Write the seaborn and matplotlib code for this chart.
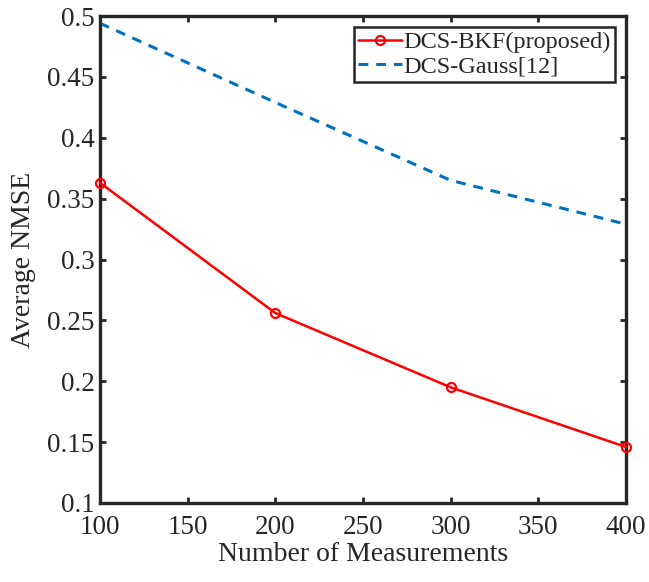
import matplotlib
matplotlib.use("Agg")
import matplotlib.pyplot as plt
import seaborn as sns
import pandas as pd

measurements = [100, 200, 300, 400]
nmse_bkf = [0.363, 0.256, 0.195, 0.146]
nmse_gauss = [0.494, 0.429, 0.365, 0.329]
label_bkf = "DCS-BKF(proposed)"
label_gauss = "DCS-Gauss[12]"

sns.set_theme(style="white")
plt.rcParams["font.family"] = ["Liberation Serif", "DejaVu Serif"]

df_bkf = pd.DataFrame({"m": measurements, "nmse": nmse_bkf})
df_gauss = pd.DataFrame({"m": measurements, "nmse": nmse_gauss})

fig = plt.figure(figsize=(6.49, 5.82), dpi=100)
ax = fig.add_axes([100 / 649, 1 - 503 / 582, 526 / 649, 487 / 582])

sns.lineplot(data=df_bkf, x="m", y="nmse", ax=ax, color="#FF0000", lw=1.8,
             marker="o", markersize=6.5, markerfacecolor="none",
             markeredgecolor="#FF0000", markeredgewidth=1.6, label=label_bkf,
             clip_on=False, zorder=3)
sns.lineplot(data=df_gauss, x="m", y="nmse", ax=ax, color="#0072BD", lw=2.2,
             linestyle=(0, (3.2, 2.6)), label=label_gauss, clip_on=False, zorder=2)

ax.set_xlim(100, 400)
ax.set_ylim(0.1, 0.5)
ax.set_xticks([100, 150, 200, 250, 300, 350, 400])
ax.set_yticks([0.1, 0.15, 0.2, 0.25, 0.3, 0.35, 0.4, 0.45, 0.5])
ax.set_yticklabels(["0.1", "0.15", "0.2", "0.25", "0.3", "0.35", "0.4", "0.45", "0.5"])
ax.set_xlabel("Number of Measurements", fontsize=20, color="#262626", labelpad=1)
ax.set_ylabel("Average NMSE", fontsize=20, color="#262626", labelpad=8)

for s in ax.spines.values():
    s.set_visible(True)
    s.set_linewidth(2.4)
    s.set_color("#262626")
ax.tick_params(direction="in", length=4.5, width=2, colors="#262626",
               labelsize=19.5, top=True, right=True, bottom=True, left=True,
               labelcolor="#262626")
ax.tick_params(axis="x", pad=9)
ax.tick_params(axis="y", pad=4)

leg = ax.legend(loc="upper right", fontsize=17.5, frameon=True, fancybox=False,
                handlelength=1.8, handletextpad=0.05, borderpad=0.18,
                labelspacing=0.1, borderaxespad=0.45, framealpha=1)
leg.get_frame().set_edgecolor("#262626")
leg.get_frame().set_linewidth(1.8)
for t in leg.get_texts():
    t.set_color("#262626")

fig.savefig("out.png", dpi=100)
